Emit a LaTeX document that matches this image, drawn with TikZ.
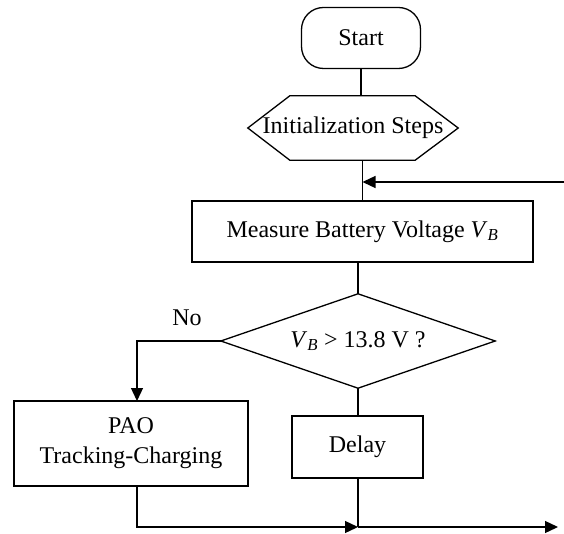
\documentclass[tikz,border=0pt]{standalone}
\usepackage{fontspec}
\setmainfont{Liberation Serif}
\usetikzlibrary{arrows.meta,calc}
\begin{document}
\begin{tikzpicture}[x=1pt,y=-1pt,
  every node/.style={font=\fontsize{24}{30}\selectfont, inner sep=0pt},
  ln/.style={line width=1.3pt},
  arr/.style={ln,-{Triangle[length=13pt,width=12pt]}},
  box/.style={draw, ln, rectangle, align=center}]
\useasboundingbox (0,0) rectangle (564,534);
% nodes
\node[box, rounded corners=22pt, minimum width=119pt, minimum height=61pt] (start) at (361,38) {Start};
\node[minimum width=210pt, minimum height=64pt] (init) at (353,128) {Initialization Steps};
\draw[ln] (init.west) -- ($(init.north west)+(42,0)$) -- ($(init.north east)+(-43,0)$) -- (init.east)
  -- ($(init.south east)+(-43,0)$) -- ($(init.south west)+(42,0)$) -- cycle;
\node[box, minimum width=341pt, minimum height=61pt] (meas) at (362.5,231.5) {Measure Battery Voltage \textit{V}\textsubscript{\textit{B}}};
\node[minimum width=274pt, minimum height=94pt] (dec) at (358,341) {\textit{V}\textsubscript{\textit{B}} > 13.8 V ?};
\draw[ln] (dec.west) -- (dec.north) -- (dec.east) -- (dec.south) -- cycle;
\node[box, minimum width=234pt, minimum height=85pt] (pao) at (131,443.5) {PAO\\Tracking-Charging};
\node[box, minimum width=131pt, minimum height=62pt] (delay) at (357.5,447) {Delay};
\node (no) at (187,318) {No};
% coordinates
\coordinate (loopin) at (564,182);
\coordinate (paoin) at (137,401);
\coordinate (paoout) at (137,486);
\coordinate (join) at (358,527);
\coordinate (endp) at (558,527);
% connectors
\draw[ln] (start.south) -- (start.south |- init.north);
\draw[ln] (meas.north |- init.south) -- (meas.north);
\draw[arr] (loopin) -- (loopin -| meas.north);
\draw[ln] (dec.north |- meas.south) -- (dec.north);
\draw[ln] (dec.south) -- (dec.south |- delay.north);
\draw[arr] (dec.west) -| (paoin);
\draw[arr] (paoout) |- (join);
\draw[ln] (delay.south -| join) -- (join);
\draw[arr] (join) -- (endp);
\end{tikzpicture}
\end{document}
